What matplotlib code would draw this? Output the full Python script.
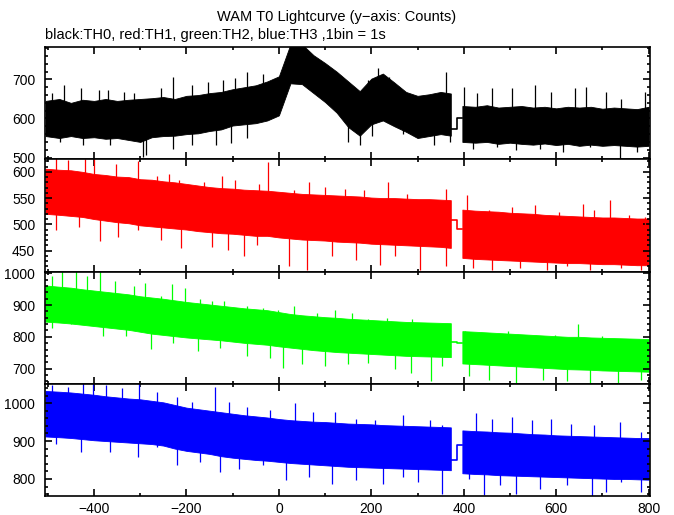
import numpy as np
import matplotlib
matplotlib.use("Agg")
import matplotlib.pyplot as plt
from matplotlib.ticker import MultipleLocator

plt.rcParams["font.family"] = ["Liberation Sans", "DejaVu Sans"]

# time grid (s) of the envelope readings, before and after the data gap
t_a = [-505, -475, -450, -425, -400, -375, -350, -325, -300, -275, -250, -225,
       -200, -175, -150, -125, -100, -75, -50, -25, 0, 25, 50, 75, 100, 125,
       150, 175, 200, 225, 250, 275, 300, 325, 350, 372]
t_b = [397, 425, 450, 475, 500, 525, 550, 575, 600, 625, 650, 675, 700, 725,
       750, 775, 800]
t_gap = [372, 385, 397]

# TH0 (black)
th0_lo_a = [555, 550, 555, 550, 552, 548, 550, 545, 540, 552, 555, 556, 560, 562,
            568, 572, 582, 585, 588, 595, 608, 690, 688, 665, 642, 615, 578, 556,
            585, 595, 580, 566, 550, 555, 560, 556]
th0_hi_a = [645, 650, 640, 648, 645, 650, 645, 648, 650, 652, 655, 650, 658, 660,
            665, 668, 675, 680, 685, 695, 708, 790, 790, 762, 742, 720, 695, 670,
            702, 715, 692, 668, 658, 662, 668, 664]
th0_lo_b = [540, 538, 540, 535, 538, 535, 533, 536, 532, 535, 530, 533, 530, 532,
            530, 528, 530]
th0_hi_b = [632, 630, 634, 628, 630, 632, 628, 630, 626, 630, 628, 630, 625, 628,
            626, 624, 630]
th0_gap = [573, 602, 602]
th0_spike_t = [-491, -466, -428, -390, -369, -335, -314, -255, -230, -187, -154,
               -120, -95, -69, -35, 192, 214, 239, 361, 401, 429, 462, 505, 555,
               589, 640, 665, 707, 741, 792,
               -474, -424, -365, -293, -287, -230, -187, -137, -103, -69, 150,
               176, 201, 268, 336, 370, 420, 471, 513, 564, 614, 673, 737, 775]
th0_spike_v = [664, 687, 677, 673, 673, 668, 664, 677, 707, 685, 694, 698, 703,
               720, 715, 698, 728, 707, 720, 681, 664, 677, 677, 685, 668, 677,
               681, 668, 651, 668,
               540, 532, 532, 502, 506, 523, 532, 532, 536, 549, 540, 532, 555,
               561, 532, 540, 523, 527, 519, 523, 514, 527, 497, 514]

# TH1 (red)
th1_lo_a = [520, 518, 516, 514, 510, 507, 504, 502, 498, 496, 494, 492, 490, 487,
            485, 483, 482, 480, 478, 478, 475, 473, 471, 470, 469, 467, 466, 465,
            463, 462, 461, 460, 459, 458, 457, 455]
th1_hi_a = [606, 604, 603, 600, 596, 594, 591, 590, 586, 585, 582, 580, 577, 574,
            571, 569, 568, 566, 565, 564, 562, 560, 558, 557, 556, 555, 554, 553,
            551, 550, 550, 549, 548, 548, 547, 546]
th1_lo_b = [436, 434, 433, 432, 431, 430, 429, 428, 427, 426, 426, 425, 424, 424,
            423, 422, 422]
th1_hi_b = [528, 526, 525, 524, 522, 521, 520, 518, 517, 516, 515, 514, 513, 513,
            512, 511, 511]
th1_gap = [509, 491, 491]
th1_spike_t = [-483, -457, -419, -400, -352, -305, -263, -238, -217, -162, -124,
               -95, -44, -23, 32, 66, 100, 142, 184, 236, 277, 361, 408, 454, 505,
               555, 606, 657, 682, 716, 758, 792,
               -483, -432, -387, -348, -305, -255, -211, -145, -111, -76, -48, 22,
               60, 116, 167, 218, 251, 306, 361, 420, 462, 522, 581, 623, 673,
               741, 783]
th1_spike_v = [628, 622, 625, 628, 615, 621, 593, 596, 584, 580, 593, 584, 577,
               618, 565, 580, 571, 568, 565, 580, 558, 568, 555, 527, 533, 536,
               524, 539, 527, 546, 517, 514,
               489, 495, 469, 476, 489, 470, 454, 457, 451, 440, 461, 421, 413,
               439, 432, 423, 439, 413, 420, 416, 413, 416, 413, 420, 413, 416,
               413]

# TH2 (green)
th2_lo_a = [848, 845, 842, 838, 834, 830, 826, 822, 816, 810, 806, 802, 798, 795,
            792, 789, 785, 781, 778, 775, 770, 766, 762, 758, 755, 752, 750, 748,
            746, 744, 742, 740, 739, 738, 737, 736]
th2_hi_a = [962, 958, 955, 950, 946, 942, 938, 934, 928, 924, 920, 915, 910, 906,
            902, 898, 894, 890, 887, 884, 878, 872, 868, 865, 862, 860, 857, 855,
            853, 851, 849, 847, 846, 845, 844, 843]
th2_lo_b = [716, 714, 712, 710, 708, 706, 704, 702, 700, 698, 697, 696, 694, 693,
            692, 691, 690]
th2_hi_b = [818, 816, 814, 812, 810, 808, 806, 804, 802, 800, 800, 798, 797, 796,
            795, 794, 793]
th2_gap = [785, 781, 781]
th2_spike_t = [-491, -470, -440, -415, -387, -354, -314, -290, -255, -231, -204,
               -170, -145, -118, -69, -35, -2, 32, 83, 121, 159, 192, 235, 289,
               336, 403, 454, 496, 555, 597, 648, 699, 741, 787,
               -491, -449, -380, -331, -276, -230, -175, -128, -69, -19, 9, 49,
               100, 150, 192, 251, 285, 330, 353, 412, 454, 513, 572, 623, 673,
               733, 783]
th2_spike_v = [992, 1007, 1007, 992, 1007, 976, 960, 971, 928, 968, 955, 918,
               913, 913, 897, 892, 886, 897, 876, 886, 876, 855, 860, 855, 839,
               818, 813, 818, 802, 807, 839, 802, 792, 760,
               828, 839, 802, 802, 763, 781, 755, 765, 739, 734, 702, 713, 707,
               713, 718, 697, 686, 660, 707, 676, 665, 655, 665, 660, 655, 655,
               665]

# TH3 (blue)
th3_lo_a = [912, 910, 908, 905, 902, 900, 898, 896, 894, 892, 888, 880, 874, 870,
            866, 860, 856, 853, 850, 848, 845, 842, 840, 838, 836, 834, 832, 831,
            830, 829, 828, 827, 826, 825, 824, 823]
th3_hi_a = [1032, 1030, 1028, 1025, 1022, 1018, 1015, 1012, 1010, 1006, 1002, 995,
            988, 984, 980, 976, 972, 968, 965, 962, 958, 955, 953, 951, 950, 948,
            946, 945, 944, 942, 941, 940, 939, 938, 937, 936]
th3_lo_b = [815, 813, 812, 810, 809, 808, 807, 806, 805, 804, 803, 802, 801, 800,
            800, 799, 798]
th3_hi_b = [928, 926, 925, 923, 922, 920, 918, 917, 915, 914, 913, 912, 911, 910,
            909, 908, 908]
th3_gap = [849, 889, 889]
th3_spike_t = [-491, -457, -424, -403, -373, -339, -303, -263, -221, -187, -139,
               -107, -69, -19, 35, 74, 122, 167, 209, 268, 327, 353, 426, 462,
               505, 547, 589, 631, 682, 737, 783,
               -483, -428, -365, -305, -263, -221, -170, -128, -86, -35, 15, 66,
               116, 167, 226, 268, 302, 353, 412, 444, 479, 513, 564, 623, 678,
               707, 741, 783]
th3_spike_v = [1048, 1043, 1052, 1052, 1048, 1039, 1052, 1030, 1017, 1003, 1043,
               1003, 990, 981, 999, 977, 977, 959, 955, 968, 955, 942, 973, 959,
               964, 955, 959, 946, 942, 951, 924,
               893, 871, 871, 858, 884, 836, 845, 818, 827, 836, 796, 805, 787,
               796, 787, 805, 792, 761, 801, 758, 783, 761, 774, 783, 756, 765,
               792, 765]

channels = [
    ("black", th0_lo_a, th0_hi_a, th0_lo_b, th0_hi_b, th0_gap, th0_spike_t, th0_spike_v),
    ("red", th1_lo_a, th1_hi_a, th1_lo_b, th1_hi_b, th1_gap, th1_spike_t, th1_spike_v),
    ("#00ff00", th2_lo_a, th2_hi_a, th2_lo_b, th2_hi_b, th2_gap, th2_spike_t, th2_spike_v),
    ("blue", th3_lo_a, th3_hi_a, th3_lo_b, th3_hi_b, th3_gap, th3_spike_t, th3_spike_v),
]
ylims = [(495.6, 783), (410, 624), (652, 1006), (755, 1051)]
ymajor = [100, 50, 100, 100]
yminor = [20, 10, 20, 20]


def draw_panel(ax, color, lo_a, hi_a, lo_b, hi_b, gap, spike_t, spike_v):
    ax.fill_between(t_a, lo_a, hi_a, color=color, lw=0.6)
    ax.fill_between(t_b, lo_b, hi_b, color=color, lw=0.6)
    ax.plot(t_gap, gap, color=color, lw=1.2, drawstyle="steps-post")

    # single-bin spikes sticking out of the band
    t_all = np.array(t_a + t_b)
    mid = (np.array(lo_a + lo_b) + np.array(hi_a + hi_b)) / 2
    base = np.interp(spike_t, t_all, mid)
    ax.vlines(spike_t, base, spike_v, color=color, lw=0.9)


def main():
    fig, axes = plt.subplots(4, 1, sharex=True, figsize=(6.74, 5.15), dpi=100)
    fig.subplots_adjust(left=0.0668, right=0.9644, top=0.9087, bottom=0.0369,
                        hspace=0)

    for i, (ax, ch) in enumerate(zip(axes, channels)):
        draw_panel(ax, *ch)
        ax.set_xlim(-506, 803)
        ax.set_ylim(*ylims[i])
        ax.xaxis.set_major_locator(MultipleLocator(200))
        ax.xaxis.set_minor_locator(MultipleLocator(100))
        ax.yaxis.set_major_locator(MultipleLocator(ymajor[i]))
        ax.yaxis.set_minor_locator(MultipleLocator(yminor[i]))
        ax.tick_params(which="both", direction="in", top=True, right=True,
                       width=1.2, labelsize=10, colors="black")
        ax.tick_params(which="major", length=5, pad=7)
        ax.tick_params(which="minor", length=2.5)
        ax.tick_params(axis="x", which="major", pad=4)
        for sp in ax.spines.values():
            sp.set_linewidth(1.2)

    fig.text(0.5, 0.967, "WAM T0 Lightcurve (y\u2212axis: Counts)",
             ha="center", va="center", fontsize=10.5)
    fig.text(0.0668, 0.932, "black:TH0, red:TH1, green:TH2, blue:TH3 ,1bin = 1s",
             ha="left", va="center", fontsize=10.5)

    fig.savefig("out.png", dpi=100)


if __name__ == "__main__":
    main()
